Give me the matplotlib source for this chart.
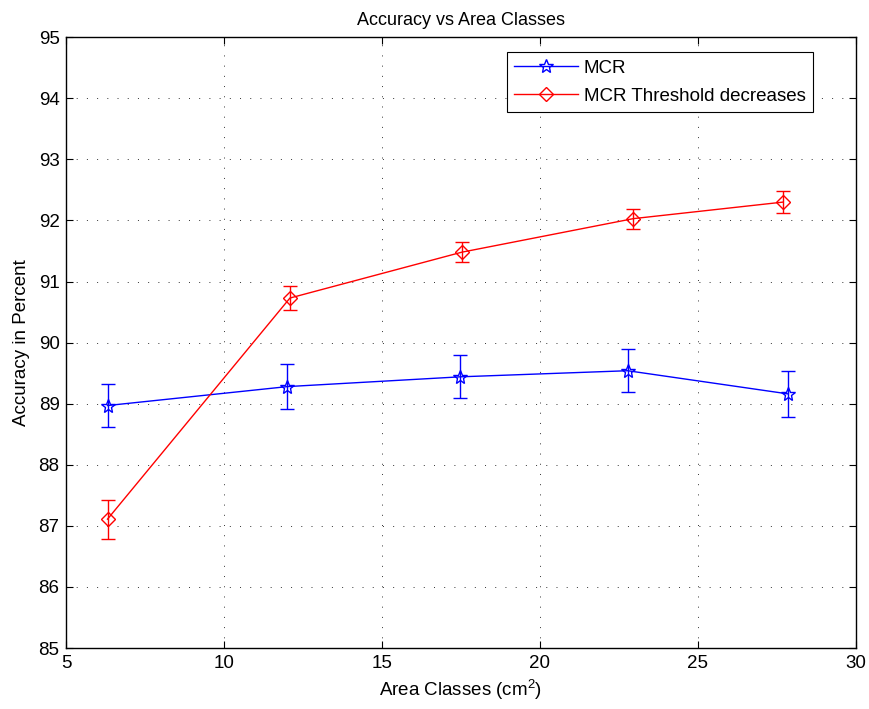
import matplotlib
matplotlib.use('Agg')
import matplotlib.pyplot as plt

# values
x_mcr = [6.3, 12.0, 17.47, 22.78, 27.87]
y_mcr = [88.97, 89.28, 89.44, 89.54, 89.16]
e_mcr = [0.35, 0.37, 0.35, 0.355, 0.38]

x_thr = [6.3, 12.08, 17.52, 22.96, 27.69]
y_thr = [87.11, 90.73, 91.48, 92.03, 92.30]
e_thr = [0.32, 0.195, 0.16, 0.165, 0.18]

xticks = [5, 10, 15, 20, 25, 30]
yticks = list(range(85, 96))

plt.rcParams['font.family'] = ['Liberation Sans', 'DejaVu Sans']
plt.rcParams['mathtext.default'] = 'regular'

fig = plt.figure(figsize=(8.7, 7.09), dpi=100)
ax = fig.add_axes([0.0764, 0.086, 0.907, 0.8615])

# error bars (kept out of the legend)
ax.errorbar(x_mcr, y_mcr, yerr=e_mcr, fmt='none', ecolor='b', elinewidth=1, capsize=4.7, capthick=1)
ax.errorbar(x_thr, y_thr, yerr=e_thr, fmt='none', ecolor='r', elinewidth=1, capsize=4.7, capthick=1)

ax.plot(x_mcr, y_mcr, color='b', lw=1, marker='*', ms=10, mfc='none', mec='b', mew=1, label='MCR')
ax.plot(x_thr, y_thr, color='r', lw=1, marker='D', ms=7.5, mfc='none', mec='r', mew=1,
        label='MCR Threshold decreases')

ax.set_xlim(5, 30)
ax.set_ylim(85, 95)
ax.set_xticks(xticks)
ax.set_yticks(yticks)
ax.tick_params(direction='in', top=True, right=True, length=5, labelsize=13.5, width=0.8, pad=5)
ax.grid(True, linestyle=(0, (1, 9.5)), color='#333333', linewidth=0.7)
for s in ax.spines.values():
    s.set_linewidth(1)

ax.set_title('Accuracy vs Area Classes', fontsize=13, pad=9)
ax.set_xlabel('Area Classes (cm$^2$)', fontsize=13.5, labelpad=4)
ax.set_ylabel('Accuracy in Percent', fontsize=13.5, labelpad=6)

leg = ax.legend(loc='upper right', bbox_to_anchor=(0.946, 0.976), fontsize=13.5, fancybox=False,
                edgecolor='k', framealpha=1, borderaxespad=0, handlelength=3.4,
                handletextpad=0.3, labelspacing=0.6, borderpad=0.4)
leg.get_frame().set_linewidth(0.8)

fig.savefig('out.png', dpi=100)
